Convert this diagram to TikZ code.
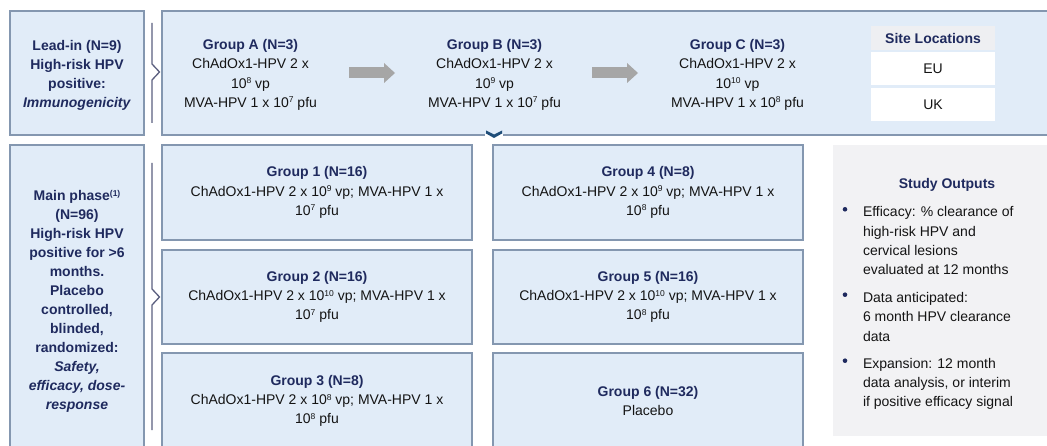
\documentclass[tikz,border=0pt]{standalone}
\usepackage{fontspec}
\setmainfont{Liberation Sans}
\usetikzlibrary{arrows.meta}
\definecolor{boxfill}{HTML}{E1ECF8}
\definecolor{boxline}{HTML}{8497B0}
\definecolor{navy}{HTML}{1F2A5E}
\definecolor{brk}{HTML}{5B5F7F}
\definecolor{arrowgray}{HTML}{A6A6A6}
\definecolor{outfill}{HTML}{F2F2F4}
\definecolor{hdrfill}{HTML}{EEEFF2}
\definecolor{chev}{HTML}{1F4E79}
\definecolor{txt}{HTML}{141414}
\newcommand{\myfs}{\fontsize{14}{19.3}\selectfont}
\newcommand{\grptitle}[1]{\textcolor{navy}{\bfseries #1}}
\newcommand{\sups}[1]{\raisebox{4.6pt}{\fontsize{8.5}{8.5}\selectfont #1}}
\begin{document}
\begin{tikzpicture}[x=1pt,y=-1pt,
  every node/.style={inner sep=0pt, outer sep=0pt, font=\myfs, text=txt},
  bx/.style={draw=boxline, line width=1.3pt, fill=boxfill, rectangle},
  gbox/.style={bx, minimum width=310pt, align=center},
  phase/.style={bx, minimum width=134pt, align=center, text=navy, font=\fontsize{14}{19}\selectfont\bfseries},
  grouptext/.style={align=center},
  cell/.style={fill=white, minimum width=124pt, minimum height=33pt},
  dot/.style={circle, fill=navy, minimum size=4.6pt},
  blockarrow/.style={line width=11pt, draw=arrowgray, -{Triangle[length=11pt,width=20pt,line width=0pt]}},
  bracketline/.style={draw=brk, line width=1.3pt},
]
\useasboundingbox (0,0) rectangle (1047,446);
\clip (0,0) rectangle (1047,446);

% Lead-in
\node[phase, minimum height=124pt] (lead) at (77,73) {};
\node[align=center, text=navy, font=\fontsize{14}{19}\selectfont\bfseries] (leadtxt) at (77,75) {Lead-in (N=9)\\High-risk HPV\\positive:\\\textit{Immunogenicity}};
\node[bx, minimum width=898pt, minimum height=124pt] (top) at (611,73) {};
\draw[bracketline] (152,23) -- (152,64) -- (159.5,72) -- (152,80) -- (152,123);

\node[grouptext] (ga) at (250.5,75) {\grptitle{Group A (N=3)}\\ChAdOx1-HPV 2 x\\10\sups{8} vp\\MVA-HPV 1 x 10\sups{7} pfu};
\node[grouptext] (gb) at (494.5,75) {\grptitle{Group B (N=3)}\\ChAdOx1-HPV 2 x\\10\sups{9} vp\\MVA-HPV 1 x 10\sups{7} pfu};
\node[grouptext] (gc) at (737.5,75) {\grptitle{Group C (N=3)}\\ChAdOx1-HPV 2 x\\10\sups{10} vp\\MVA-HPV 1 x 10\sups{8} pfu};

\coordinate (a1s) at (349,73); \coordinate (a1e) at (395,73);
\coordinate (a2s) at (592,73); \coordinate (a2e) at (638,73);
\draw[blockarrow] (a1s) -- (a1e);
\draw[blockarrow] (a2s) -- (a2e);

\node[fill=hdrfill, minimum width=124pt, minimum height=24pt, text=navy, font=\myfs\bfseries] (sitehdr) at (933,38) {Site Locations};
\node[cell] (eu) at (933,68.5) {EU};
\node[cell] (uk) at (933,104.5) {UK};

% chevron
\fill[white] (485,134) rectangle (503,136.6);
\fill[chev] (486,130.5) -- (494,134.5) -- (502,130.5) -- (502,133.5) -- (494,138) -- (486,133.5) -- cycle;

% Main phase
\node[phase, minimum height=310pt] (main) at (77,300) {};
\node[align=center, text=navy, font=\fontsize{14}{19}\selectfont\bfseries] (maintxt) at (77,301.5) {Main phase\sups{(1)}\\(N=96)\\High-risk HPV\\positive for >6\\months.\\Placebo\\controlled,\\blinded,\\randomized:\\\textit{Safety,}\\\textit{efficacy, dose-}\\\textit{response}};
\draw[bracketline] (152,163) -- (152,289) -- (159.5,297) -- (152,305) -- (152,430);

\node[gbox, minimum height=95pt] (g1) at (317,192.5) {\grptitle{Group 1 (N=16)}\\ChAdOx1-HPV 2 x 10\sups{9} vp; MVA-HPV 1 x\\10\sups{7} pfu};
\node[gbox, minimum height=94pt] (g2) at (317,297) {\grptitle{Group 2 (N=16)}\\ChAdOx1-HPV 2 x 10\sups{10} vp; MVA-HPV 1 x\\10\sups{7} pfu};
\node[gbox, minimum height=96pt] (g3) at (317,401) {\grptitle{Group 3 (N=8)}\\ChAdOx1-HPV 2 x 10\sups{8} vp; MVA-HPV 1 x\\10\sups{8} pfu};
\node[gbox, minimum height=95pt] (g4) at (648,192.5) {\grptitle{Group 4 (N=8)}\\ChAdOx1-HPV 2 x 10\sups{9} vp; MVA-HPV 1 x\\10\sups{8} pfu};
\node[gbox, minimum height=94pt] (g5) at (648,297) {\grptitle{Group 5 (N=16)}\\ChAdOx1-HPV 2 x 10\sups{10} vp; MVA-HPV 1 x\\10\sups{8} pfu};
\node[gbox, minimum height=96pt] (g6) at (648,401) {\grptitle{Group 6 (N=32)}\\Placebo};

% Study outputs
\node[fill=outfill, minimum width=227pt, minimum height=291pt] (out) at (946.5,290.5) {};
\node[text=navy, font=\myfs\bfseries] (outttl) at (947,185) {Study Outputs};
\node[dot] (d1) at (845,209.3) {};
\node[dot] (d2) at (845,294.7) {};
\node[dot] (d3) at (845,360.7) {};
\node[anchor=base west, align=left] (b1) at (863,274.9) {Efficacy: \% clearance of\\high-risk HPV and\\cervical lesions\\evaluated at 12 months};
\node[anchor=base west, align=left] (b2) at (863,341.1) {Data anticipated:\\6 month HPV clearance\\data};
\node[anchor=base west, align=left] (b3) at (863,406.6) {Expansion: 12 month\\data analysis, or interim\\if positive efficacy signal};
\end{tikzpicture}
\end{document}
